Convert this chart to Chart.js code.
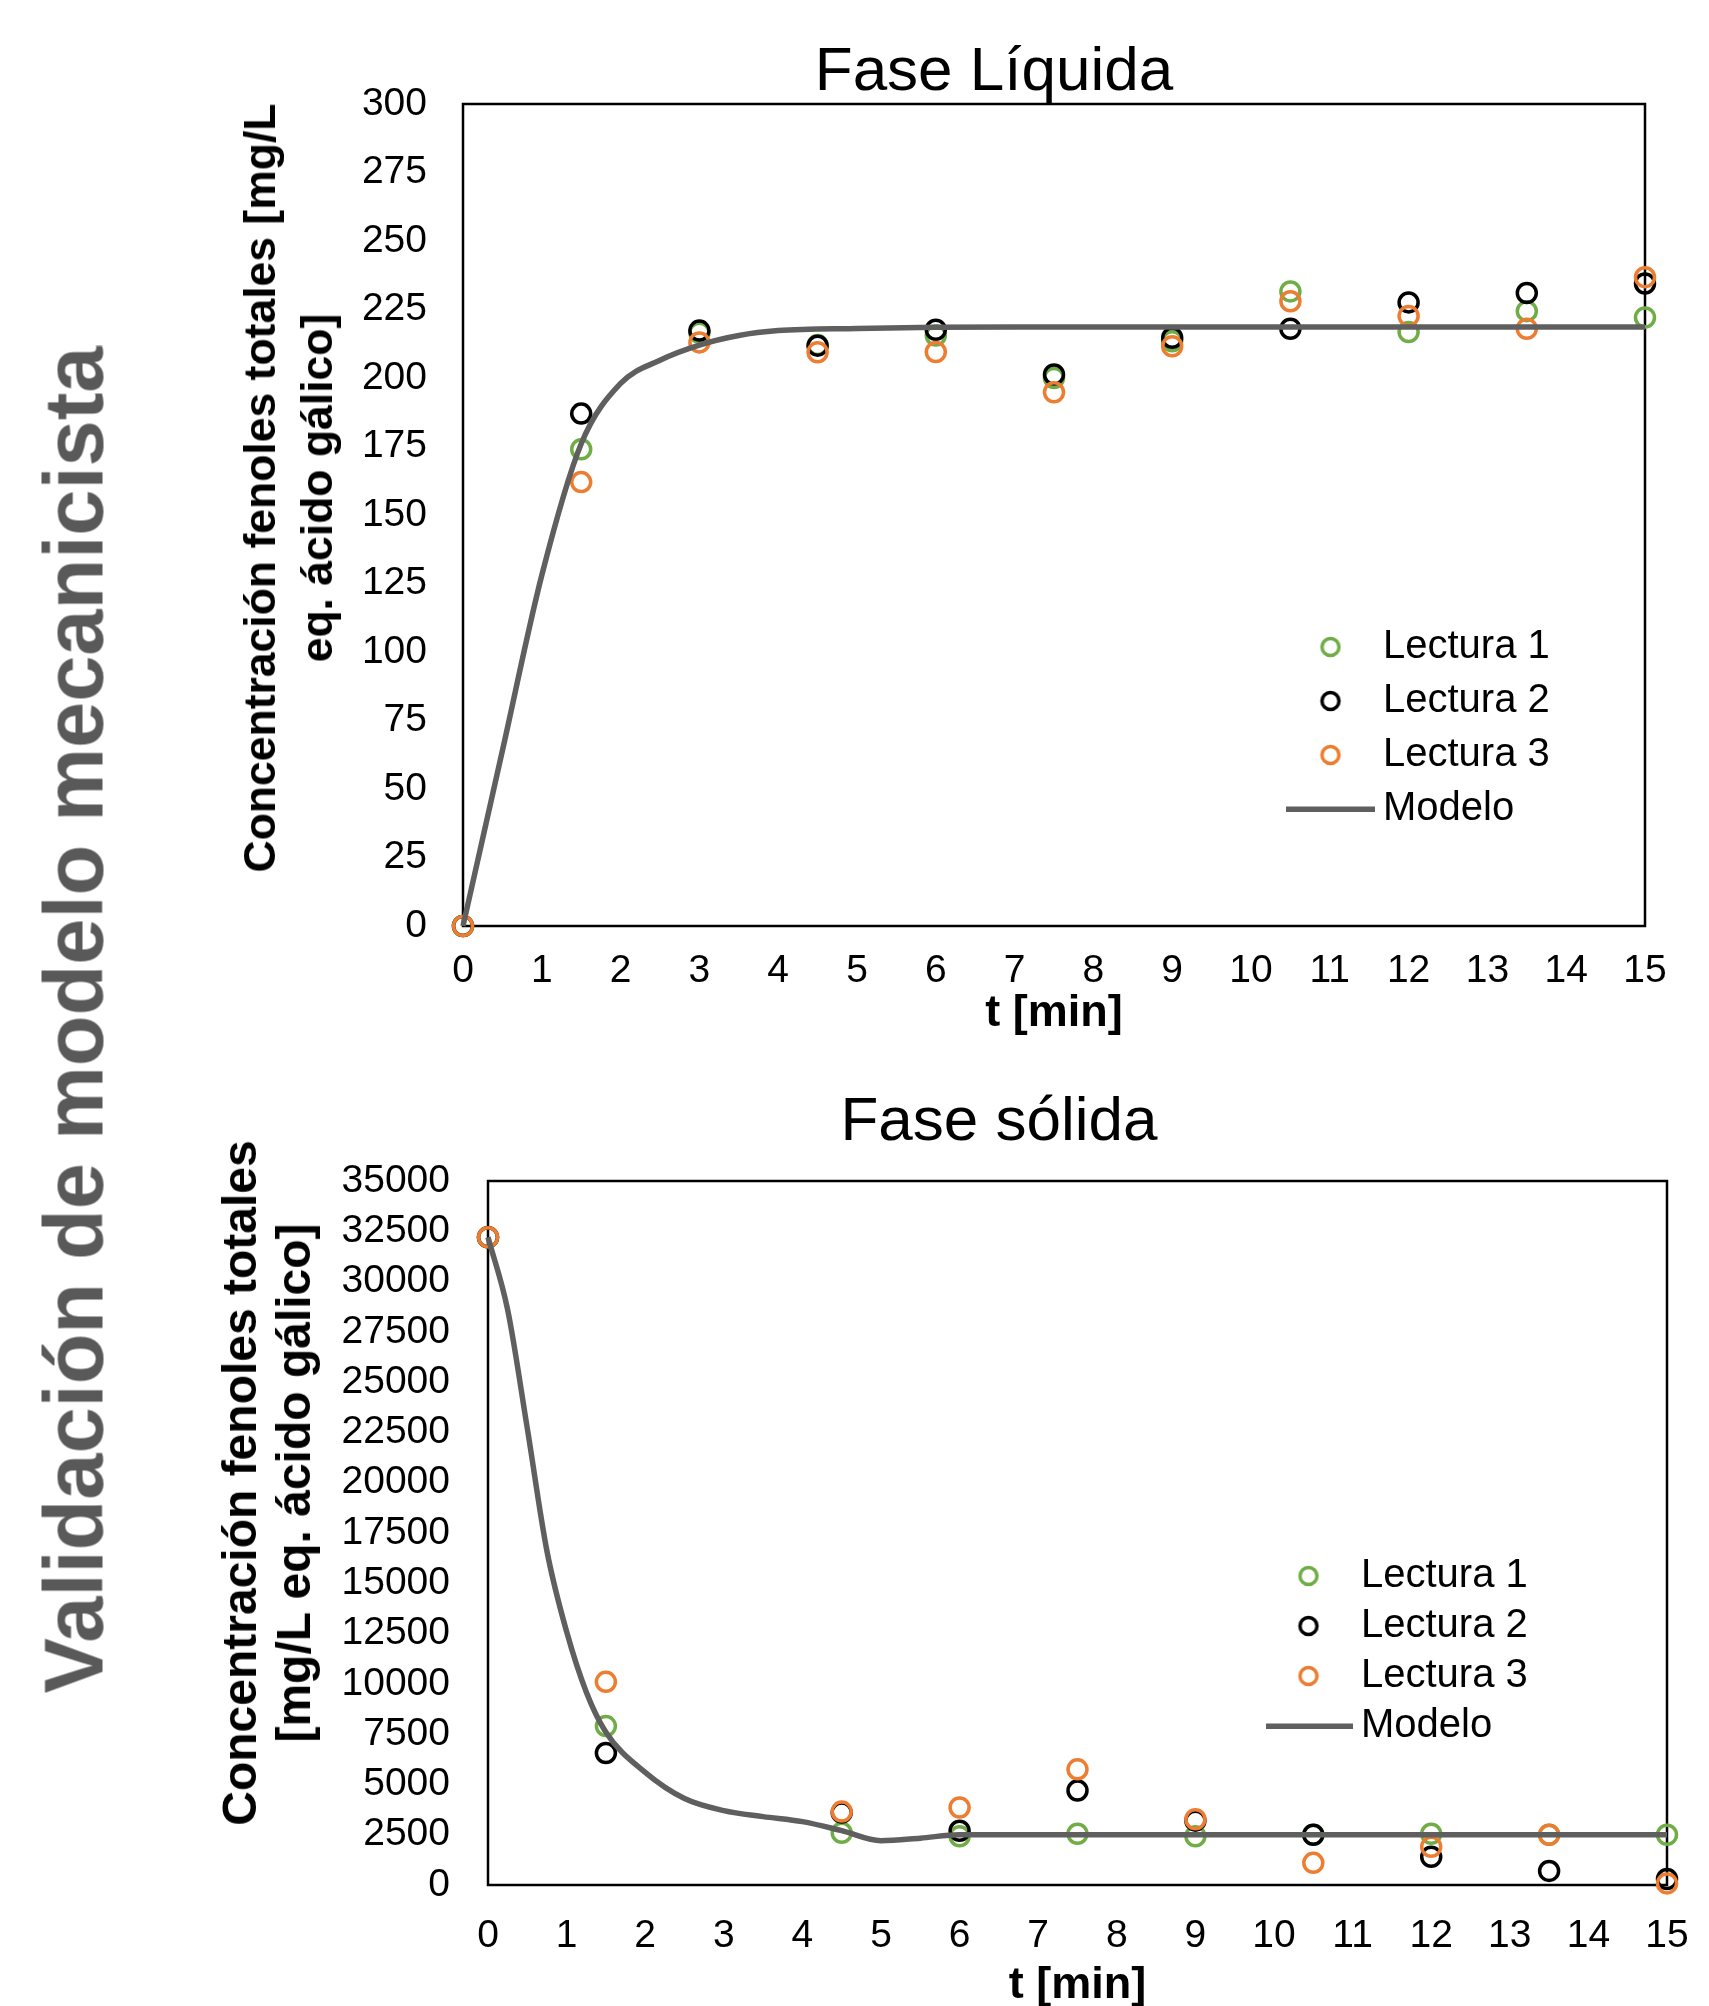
<!DOCTYPE html>
<html lang="es">
<head>
<meta charset="utf-8">
<title>Validación de modelo mecanicista</title>
<script src="https://cdn.jsdelivr.net/npm/chart.js@4.4.1/dist/chart.umd.min.js"></script>
<style>
  html, body { margin: 0; padding: 0; background: #fff; }
  #pagina { position: relative; width: 1709px; height: 2006px; overflow: hidden;
            font-family: 'Liberation Sans', Arial, sans-serif; }
  canvas { position: absolute; left: 0; }
  .texto { position: absolute; white-space: nowrap; color: #000; }
  .titulo-pagina { font-weight: bold; font-size: 83px; line-height: 1; color: #595959;
                   transform: translate(-50%, -50%) rotate(-90deg); }
  .titulo-grafico { font-size: 62px; line-height: 1; transform: translateX(-50%); }
  .titulo-eje { font-weight: bold; text-align: center;
                transform: translate(-50%, -50%) rotate(-90deg); }
</style>
</head>
<body>
<div id="pagina">
  <canvas id="graficoLiquida" width="1709" height="1080" style="top:0px"></canvas>
  <canvas id="graficoSolida" width="1709" height="960" style="top:1080px"></canvas>

  <div class="texto titulo-pagina" style="left:74px; top:1020px">Validación de modelo mecanicista</div>

  <div class="texto titulo-grafico" style="left:994px; top:38px">Fase Líquida</div>
  <div class="texto titulo-grafico" style="left:999px; top:1088px">Fase sólida</div>

  <div class="texto titulo-eje" style="left:288px; top:488px; font-size:44.5px; line-height:57px">Concentración fenoles totales [mg/L<br>eq. ácido gálico]</div>
  <div class="texto titulo-eje" style="left:267px; top:1483px; font-size:48px; line-height:54px">Concentración fenoles totales<br>[mg/L eq. ácido gálico]</div>
</div>

<script>
// fuente tipo Arial para todo el grafico
const fuente = "'Liberation Sans', Arial, sans-serif";

// ---- Fase liquida : lecturas experimentales ----
const tiemposLiquida = [0, 1.5, 3, 4.5, 6, 7.5, 9, 10.5, 12, 13.5, 15];
const lectura1Liquida = [0, 174, 216.5, 212, 215.5, 200, 213.4, 231.6, 216.8, 224.4, 222.1];
const lectura2Liquida = [0, 187, 217.3, 211.8, 217.6, 201.3, 214.7, 218, 227.6, 231, 234.5];
const lectura3Liquida = [0, 162, 213, 209.4, 209.5, 194.8, 211.6, 228, 222.6, 218, 236.8];

// curva del modelo
const tiemposModeloLiquida = [0, 0.5, 1, 1.5, 2, 2.5, 3, 3.5, 4, 5, 6, 7, 8, 9, 10, 11, 12, 13, 14, 15];
const modeloLiquida = [0, 64, 128, 176, 198, 206.5, 212, 215.5, 217.3, 218.1, 218.5, 218.6, 218.6, 218.6, 218.6, 218.6, 218.6, 218.6, 218.6, 218.6];

// ---- Fase solida : lecturas experimentales ----
const tiemposSolida = [0, 1.5, 4.5, 6, 7.5, 9, 10.5, 12, 13.5, 15];
const lectura1Solida = [32200, 7900, 2600, 2420, 2550, 2420, 2500, 2550, 2500, 2500];
const lectura2Solida = [32200, 6560, 3600, 2700, 4700, 3200, 2500, 1400, 700, 300];
const lectura3Solida = [32200, 10100, 3650, 3850, 5750, 3270, 1100, 1900, 2500, 80];

const tiemposModeloSolida = [0, 0.25, 0.5, 0.75, 1, 1.25, 1.5, 2, 2.5, 3, 3.5, 4, 4.5, 5, 5.5, 6, 7, 8, 9, 10, 11, 12, 13, 14, 15];
const modeloSolida = [32200, 28600, 22700, 16600, 12600, 9600, 7600, 5600, 4300, 3700, 3400, 3150, 2700, 2200, 2330, 2500, 2500, 2500, 2500, 2500, 2500, 2500, 2500, 2500, 2500];

// marcas de los ejes
const ticksTiempo = [0, 1, 2, 3, 4, 5, 6, 7, 8, 9, 10, 11, 12, 13, 14, 15];
const ticksLiquida = [0, 25, 50, 75, 100, 125, 150, 175, 200, 225, 250, 275, 300];
const ticksSolida = [0, 2500, 5000, 7500, 10000, 12500, 15000, 17500, 20000, 22500, 25000, 27500, 30000, 32500, 35000];

const etiquetas = ['Lectura 1', 'Lectura 2', 'Lectura 3', 'Modelo'];
const colores = ['#70AD47', '#000000', '#ED7D31', '#5f5f5f'];

Chart.defaults.font.family = fuente;
Chart.defaults.color = '#000';

// convierte dos listas en puntos {x, y}
function puntos(xs, ys) {
    return xs.map((x, i) => ({ x: x, y: ys[i] }));
}

// icono de circulo vacio para la leyenda
function iconoCirculo(color) {
    const c = document.createElement('canvas');
    c.width = 24; c.height = 24;
    const ctx = c.getContext('2d');
    ctx.strokeStyle = color;
    ctx.lineWidth = 3.5;
    ctx.beginPath();
    ctx.arc(12, 12, 8.5, 0, Math.PI * 2);
    ctx.stroke();
    return c;
}

// icono de linea para el modelo
function iconoLinea(color) {
    const c = document.createElement('canvas');
    c.width = 89; c.height = 8;
    const ctx = c.getContext('2d');
    ctx.fillStyle = color;
    ctx.fillRect(0, 1.5, 89, 5.5);
    return c;
}

// dibuja el recuadro negro alrededor del area de trazado
const marco = {
    id: 'marco',
    beforeDatasetsDraw(chart) {
        const { ctx, chartArea: a } = chart;
        ctx.save();
        ctx.strokeStyle = '#000';
        ctx.lineWidth = 2.5;
        ctx.strokeRect(a.left, a.top, a.right - a.left, a.bottom - a.top);
        ctx.restore();
    }
};

// coloca la leyenda dentro del area de trazado, como en Excel
const posicionLeyenda = {
    id: 'posicionLeyenda',
    afterLayout(chart, args, opts) {
        const ley = chart.legend;
        if (!ley) return;
        const w = ley.width, h = ley.height;
        ley.left = opts.x; ley.top = opts.y;
        ley.right = opts.x + w; ley.bottom = opts.y + h;
    }
};

function crearGrafico(id, cfg) {
    const iconos = [iconoCirculo(colores[0]), iconoCirculo(colores[1]), iconoCirculo(colores[2]), iconoLinea(colores[3])];
    const lecturas = [cfg.l1, cfg.l2, cfg.l3];

    const datasets = lecturas.map((serie, i) => ({
        label: etiquetas[i],
        data: puntos(cfg.tiempos, serie),
        borderColor: colores[i],
        backgroundColor: 'rgba(0,0,0,0)',
        pointRadius: 9.5,
        pointHoverRadius: 9.5,
        pointBorderWidth: 3.5,
        order: 3 - i,
        clip: false
    }));
    datasets.push({
        label: etiquetas[3],
        data: puntos(cfg.tiemposModelo, cfg.modelo),
        showLine: true,
        borderColor: colores[3],
        borderWidth: 5.5,
        pointRadius: 0,
        cubicInterpolationMode: 'monotone',
        order: 0,
        clip: false
    });

    const ctx = document.getElementById(id).getContext('2d');
    return new Chart(ctx, {
        type: 'scatter',
        data: { datasets: datasets },
        plugins: [marco, posicionLeyenda],
        options: {
            responsive: false,
            animation: false,
            devicePixelRatio: 1,
            layout: { padding: cfg.padding },
            plugins: {
                tooltip: { enabled: false },
                posicionLeyenda: cfg.leyenda,
                legend: {
                    position: 'chartArea',
                    align: 'start',
                    labels: {
                        usePointStyle: true,
                        pointStyleWidth: 65,
                        padding: cfg.leyenda.padding,
                        color: '#000',
                        font: { size: 40 },
                        generateLabels: (chart) => chart.data.datasets.map((ds, i) => ({
                            text: ds.label,
                            pointStyle: iconos[i],
                            fillStyle: 'rgba(0,0,0,0)',
                            strokeStyle: colores[i],
                            lineWidth: 0,
                            fontColor: '#000',
                            hidden: false,
                            datasetIndex: i
                        }))
                    }
                }
            },
            scales: {
                x: {
                    type: 'linear',
                    min: 0,
                    max: 15,
                    afterBuildTicks: (s) => { s.ticks = ticksTiempo.map(v => ({ value: v })); },
                    afterFit: (s) => { s.height = cfg.altoX; s.paddingLeft = 0; s.paddingRight = 0; },
                    grid: { display: false, drawTicks: false },
                    border: { display: false },
                    ticks: { font: { size: 39 }, color: '#000', padding: cfg.padTicksX, autoSkip: false, maxRotation: 0 },
                    title: { display: true, text: 't [min]', color: '#000', padding: 0, font: { size: 45, weight: 'bold' } }
                },
                y: {
                    min: 0,
                    max: cfg.ticksY[cfg.ticksY.length - 1],
                    afterBuildTicks: (s) => { s.ticks = cfg.ticksY.map(v => ({ value: v })); },
                    afterFit: (s) => { s.width = cfg.anchoY; s.paddingTop = 0; s.paddingBottom = 0; },
                    grid: { display: false, drawTicks: false },
                    border: { display: false },
                    ticks: { font: { size: 39 }, color: '#000', padding: cfg.padTicksY, autoSkip: false, callback: (v) => String(v) }
                }
            }
        }
    });
}

crearGrafico('graficoLiquida', {
    tiempos: tiemposLiquida,
    l1: lectura1Liquida, l2: lectura2Liquida, l3: lectura3Liquida,
    tiemposModelo: tiemposModeloLiquida, modelo: modeloLiquida,
    ticksY: ticksLiquida,
    padding: { left: 0, top: 104, right: 64, bottom: 39 },
    anchoY: 463, altoX: 115,
    padTicksX: 22, padTicksY: 36,
    leyenda: { x: 1284, y: 613, padding: 14 }
});

crearGrafico('graficoSolida', {
    tiempos: tiemposSolida,
    l1: lectura1Solida, l2: lectura2Solida, l3: lectura3Solida,
    tiemposModelo: tiemposModeloSolida, modelo: modeloSolida,
    ticksY: ticksSolida,
    padding: { left: 0, top: 101, right: 42, bottom: 27 },
    anchoY: 488, altoX: 128,
    padTicksX: 28, padTicksY: 38,
    leyenda: { x: 1266, y: 466, padding: 10 }
});
</script>
</body>
</html>
